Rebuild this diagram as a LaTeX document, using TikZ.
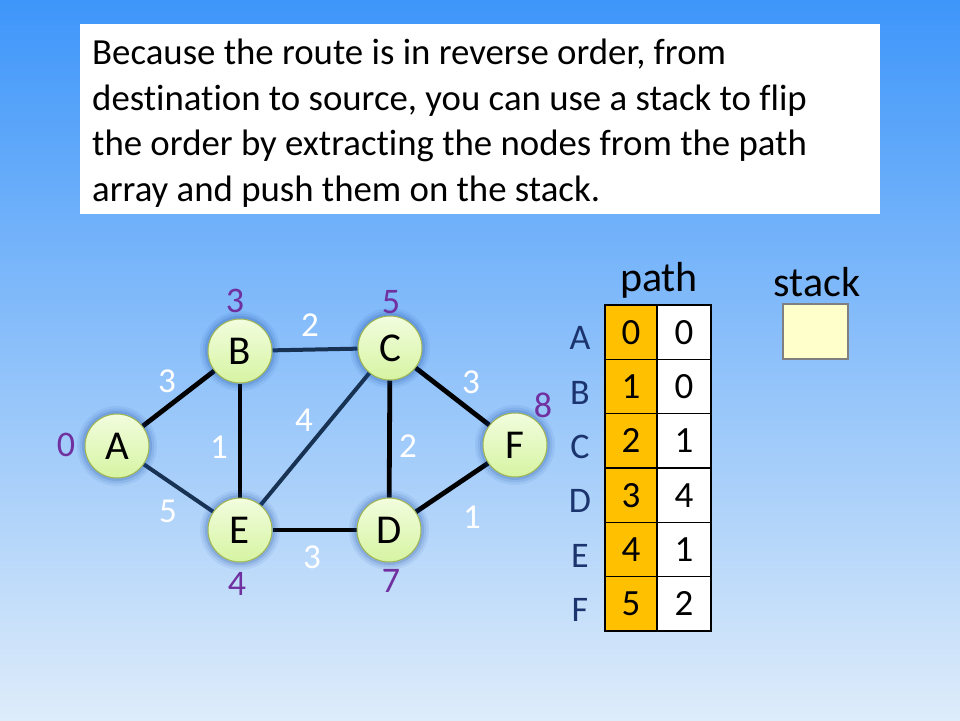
\documentclass[tikz,border=0pt]{standalone}
\usepackage{fontspec}
\setmainfont{Carlito}[Ligatures=NoCommon]
\usetikzlibrary{calc}
\definecolor{bgtop}{RGB}{62,150,250}
\definecolor{bgbot}{RGB}{222,236,250}
\definecolor{navy}{RGB}{24,50,84}
\definecolor{purp}{RGB}{112,48,160}
\definecolor{rowc}{RGB}{28,52,110}
\definecolor{orng}{RGB}{255,192,0}
\definecolor{glowc}{RGB}{20,70,160}
\definecolor{ndtop}{RGB}{242,253,222}
\definecolor{ndbot}{RGB}{214,244,162}
\definecolor{ndbrd}{RGB}{160,180,80}
\definecolor{stackc}{RGB}{255,255,204}
\pgfdeclarelayer{bglayer}
\pgfdeclarelayer{edgelayer}
\pgfsetlayers{bglayer,edgelayer,main}
\tikzset{
  vert/.style={circle, minimum size=64pt, inner sep=0pt, draw=ndbrd, line width=1pt,
    top color=ndtop, bottom color=ndbot, font=\fontsize{41}{44}\selectfont,
    preaction={draw=glowc, line width=16pt, opacity=0.07},
    preaction={draw=glowc, line width=11pt, opacity=0.10},
    preaction={draw=glowc, line width=6pt, opacity=0.15}},
  blk/.style={line width=4.8pt, black},
  nvy/.style={line width=4pt, navy},
  wlab/.style={text=white, font=\fontsize{35}{36}\selectfont, inner sep=0pt},
  plab/.style={text=purp, font=\fontsize{36}{38}\selectfont, inner sep=0pt},
  rlab/.style={text=rowc, font=\fontsize{36}{38}\selectfont, inner sep=0pt},
  cello/.style={draw=black, line width=1.2pt, fill=orng, minimum width=52pt, minimum height=54.33pt, inner sep=0pt, font=\fontsize{37}{38}\selectfont},
  cellw/.style={draw=black, line width=1.2pt, fill=white, minimum width=54pt, minimum height=54.33pt, inner sep=0pt, font=\fontsize{37}{38}\selectfont},
  ttl/.style={font=\fontsize{42}{44}\selectfont, inner sep=0pt}
}
\begin{document}
\begin{tikzpicture}[x=1pt,y=-1pt]
\begin{pgfonlayer}{bglayer}
\shade[top color=bgtop, bottom color=bgbot] (0,0) rectangle (960,720);
\end{pgfonlayer}
\useasboundingbox (0,0) rectangle (960,720);
% text box
\node[fill=white, minimum width=800pt, minimum height=190pt, inner sep=0pt, anchor=north west] (tbox) at (80,24) {};
\node[anchor=north west, inner sep=0pt, align=left, font=\fontsize{36.8}{45.5}\selectfont] (txt) at (92,39)
{Because the route is in reverse order, from\\destination to source, you can use a stack to flip\\the order by extracting the nodes from the path\\array and push them on the stack.};
% vertices
\node[vert] (A) at (117,446) {A};
\node[vert] (B) at (240,351) {B};
\node[vert] (C) at (390,348) {C};
\node[vert] (D) at (389,530) {D};
\node[vert] (E) at (240,530) {E};
\node[vert] (F) at (515,445) {F};
\begin{pgfonlayer}{edgelayer}
\draw[blk] (A) -- (B);
\draw[nvy] (B) -- (C);
\draw[blk] (B) -- (E);
\draw[nvy] (A) -- (E);
\draw[nvy] (E) -- (C);
\draw[blk] (C) -- (D);
\draw[blk] (C) -- (F);
\draw[blk] (E) -- (D);
\draw[blk] (D) -- (F);
\end{pgfonlayer}
% edge weights
\node[wlab] (wab) at (167,381) {3};
\node[wlab] (wbc) at (310,325) {2};
\node[wlab] (wec) at (304,420) {4};
\node[wlab] (wbe) at (219,447) {1};
\node[wlab] (wae) at (168,511) {5};
\node[wlab] (wed) at (312,557) {3};
\node[wlab] (wcd) at (408,446) {2};
\node[wlab] (wcf) at (471,382) {3};
\node[wlab] (wdf) at (472,517) {1};
% distances
\node[plab] (dA) at (66,445) {0};
\node[plab] (dB) at (235,301) {3};
\node[plab] (dC) at (391,302) {5};
\node[plab] (dF) at (543,405) {8};
\node[plab] (dE) at (237,584) {4};
\node[plab] (dD) at (391,581) {7};
% table
\node[ttl] (path) at (659,280) {path};
\node[ttl] (stack) at (817,282) {stack};
\foreach \r/\a/\b [count=\i from 0] in {A/0/0,B/1/0,C/2/1,D/3/4,E/4/1,F/5/2}{
  \node[cello] (o\r) at (631,{305+54.33*(\i+0.5)}) {\a};
  \node[cellw] (w\r) at (684,{305+54.33*(\i+0.5)}) {\b};
  \node[rlab] (l\r) at (580,{305+54.33*(\i+0.5)+6}) {\r};
}
\node[draw=gray, line width=1.2pt, fill=stackc, minimum width=65pt, minimum height=55pt, inner sep=0pt] (sbox) at (815.5,331.5) {};
\end{tikzpicture}
\end{document}
